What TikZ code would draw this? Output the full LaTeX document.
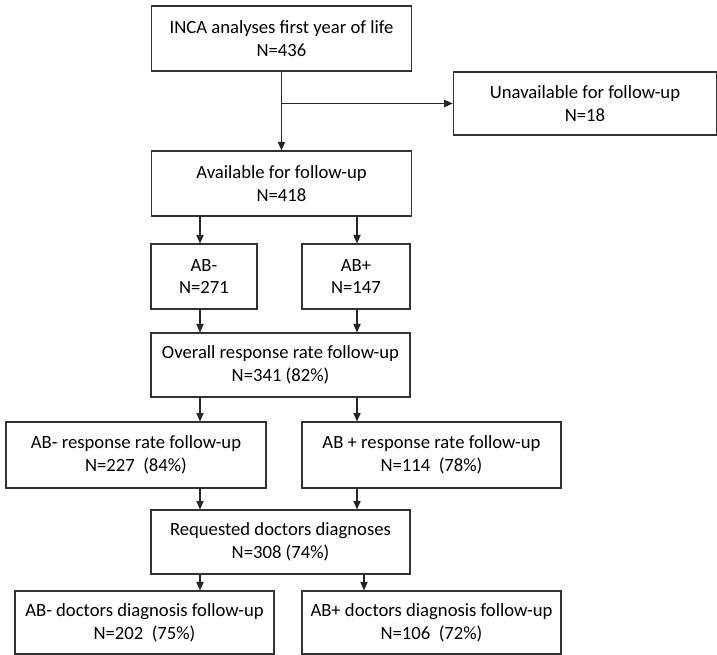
\documentclass[tikz,border=0pt]{standalone}
\usepackage{fontspec}
\setmainfont{Carlito}
\usepackage{tikz}
\usetikzlibrary{arrows.meta}

\begin{document}
\begin{tikzpicture}[x=0.75pt, y=-0.75pt,
    box/.style={draw=black!80, line width=0.8pt, align=center, inner sep=0pt,
        font=\fontsize{14}{17}\selectfont, minimum height=48.75pt},
    wide/.style={box, minimum width=195pt},
    narrow/.style={box, minimum width=80pt},
    arr/.style={draw=black!85, line width=0.8pt, -{Triangle[length=6.5pt, width=5.5pt]}}]
    \useasboundingbox (0,0) rectangle (717,655);

    % Columns of the arrows
    \coordinate (colL) at (200,0);
    \coordinate (colR) at (357,0);
    \coordinate (colD) at (364,0);

    % Boxes
    \node[wide] (inca) at (281.5,38.5) {INCA analyses first year of life\\N=436};
    \node[wide, minimum width=197.5pt, minimum height=47.25pt] (unavail) at (585,103.5) {Unavailable for follow-up\\N=18};
    \node[wide] (avail) at (281.5,183.5) {Available for follow-up\\N=418};
    \node[narrow, minimum width=79.5pt] (abneg) at (204,276.5) {AB-\\N=271};
    \node[narrow, minimum width=81pt] (abpos) at (356,276.5) {AB+\\N=147};
    \node[wide, minimum width=194.25pt, minimum height=48pt] (overall) at (280.5,365) {Overall response rate follow-up\\N=341 (82\%)};
    \node[wide, minimum height=49.5pt] (respneg) at (136,455) {AB- response rate follow-up\\N=227\ \ (84\%)};
    \node[wide, minimum width=194.25pt, minimum height=49.5pt] (resppos) at (431.5,455) {AB + response rate follow-up\\N=114\ \ (78\%)};
    \node[wide, minimum width=194.25pt, minimum height=48pt] (requested) at (280.5,542) {Requested doctors diagnoses\\N=308 (74\%)};
    \node[wide, minimum width=194.25pt, minimum height=47.25pt] (docneg) at (144.5,622.5) {AB- doctors diagnosis follow-up\\N=202\ \ (75\%)};
    \node[wide, minimum width=194.25pt, minimum height=47.25pt] (docpos) at (431.5,622.5) {AB+ doctors diagnosis follow-up\\N=106\ \ (72\%)};

    % Arrows
    \draw[arr] (inca) -- (avail);
    \draw[arr] (inca.south |- unavail.west) -- (unavail.west);

    \draw[arr] (avail.south -| colL) -- (abneg.north -| colL);
    \draw[arr] (avail.south -| colR) -- (abpos.north -| colR);

    \draw[arr] (abneg.south -| colL) -- (overall.north -| colL);
    \draw[arr] (abpos.south -| colR) -- (overall.north -| colR);

    \draw[arr] (overall.south -| colL) -- (respneg.north -| colL);
    \draw[arr] (overall.south -| colR) -- (resppos.north -| colR);

    \draw[arr] (respneg.south -| colL) -- (requested.north -| colL);
    \draw[arr] (resppos.south -| colR) -- (requested.north -| colR);

    \draw[arr] (requested.south -| colL) -- (docneg.north -| colL);
    \draw[arr] (requested.south -| colD) -- (docpos.north -| colD);
\end{tikzpicture}
\end{document}
